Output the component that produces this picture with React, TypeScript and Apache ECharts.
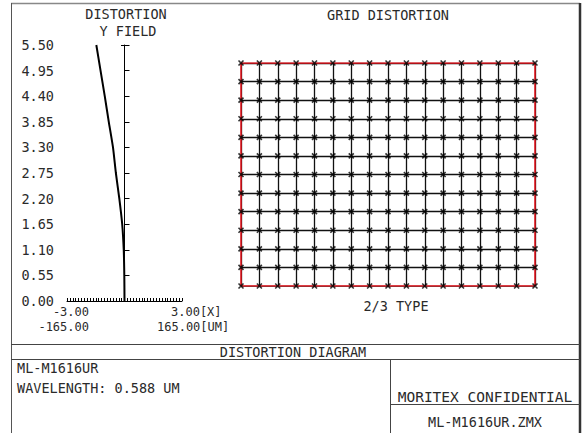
import React, { useEffect, useRef } from "react";
import * as echarts from "echarts";

// Distortion curve (Y field in mm vs distortion in %)
const fieldY = [0, 0.55, 1.1, 1.65, 2.2, 2.75, 3.3, 3.85, 4.4, 4.95, 5.5];
const distortionPct = [0, -0.01, -0.04, -0.12, -0.27, -0.45, -0.6, -0.82, -1.03, -1.25, -1.47];

// Grid distortion grid positions (mm)
const gridXs = [-4.4, -3.85, -3.3, -2.75, -2.2, -1.65, -1.1, -0.55, 0, 0.55, 1.1, 1.65, 2.2, 2.75, 3.3, 3.85, 4.4];
const gridYs = [-3.3, -2.75, -2.2, -1.65, -1.1, -0.55, 0, 0.55, 1.1, 1.65, 2.2, 2.75, 3.3];

// Axis end labels
const xLeftLabels = ["-3.00", "-165.00"];
const xRightLabels = ["3.00[X]", "165.00[UM]"];

const FONT = '"DejaVu Sans Mono", monospace';
const TXT = "#2a2a2a";

function txt(text: string, x: number, y: number, align: string, size = 13.5) {
  return {
    type: "text",
    x,
    y,
    silent: true,
    style: {
      text,
      fill: TXT,
      fontFamily: FONT,
      fontSize: size,
      lineHeight: size,
      align,
      verticalAlign: "middle",
    },
  };
}
function ln(x1: number, y1: number, x2: number, y2: number, stroke = "#444", w = 1) {
  return { type: "line", silent: true, shape: { x1, y1, x2, y2 }, style: { stroke, lineWidth: w } };
}

export default function App() {
  const ref = useRef<HTMLDivElement>(null);
  useEffect(() => {
    const chart = echarts.init(ref.current!, null, { renderer: "svg" });
    const xmin = gridXs[0], xmax = gridXs[gridXs.length - 1];
    const ymin = gridYs[0], ymax = gridYs[gridYs.length - 1];
    const gridSegs: any[] = [];
    gridXs.forEach((x) => gridSegs.push({ coords: [[x, ymin], [x, ymax]] }));
    gridYs.forEach((y) => gridSegs.push({ coords: [[xmin, y], [xmax, y]] }));
    const border = [
      { coords: [[xmin, ymin], [xmax, ymin]] },
      { coords: [[xmax, ymin], [xmax, ymax]] },
      { coords: [[xmax, ymax], [xmin, ymax]] },
      { coords: [[xmin, ymax], [xmin, ymin]] },
    ];
    const marks: number[][] = [];
    gridXs.forEach((x) => gridYs.forEach((y) => marks.push([x, y])));

    const option: any = {
      animation: false,
      backgroundColor: "#fff",
      grid: [
        { left: 67, top: 45, width: 115, height: 256 },
        { left: 241, top: 63, width: 294, height: 223 },
      ],
      xAxis: [
        {
          gridIndex: 0,
          type: "value",
          min: -3,
          max: 3,
          interval: 0.15,
          axisLine: { show: true, onZero: false, lineStyle: { color: "#000", width: 1 } },
          axisTick: { show: true, inside: true, length: 3, lineStyle: { color: "#000", width: 1 } },
          axisLabel: { show: false },
          splitLine: { show: false },
        },
        { gridIndex: 1, type: "value", min: xmin, max: xmax, show: false, splitLine: { show: false } },
      ],
      yAxis: [
        {
          gridIndex: 0,
          type: "value",
          min: 0,
          max: 5.5,
          interval: 0.55,
          position: "left",
          axisLine: { show: false, onZero: false },
          axisTick: { show: false },
          splitLine: { show: false },
          axisLabel: {
            show: true,
            margin: 13,
            formatter: (v: number) => v.toFixed(2),
            fontFamily: FONT,
            fontSize: 13.5,
            color: TXT,
          },
        },
        {
          gridIndex: 0,
          type: "value",
          min: 0,
          max: 5.5,
          interval: 0.55,
          position: "left",
          axisLine: { show: true, onZero: true, lineStyle: { color: "#000", width: 1 } },
          axisTick: { show: true, inside: true, length: 5, lineStyle: { color: "#000" } },
          axisLabel: { show: false },
          splitLine: { show: false },
        },
        { gridIndex: 1, type: "value", min: ymin, max: ymax, show: false, splitLine: { show: false } },
      ],
      series: [
        {
          type: "line",
          xAxisIndex: 0,
          yAxisIndex: 0,
          data: fieldY.map((f, i) => [distortionPct[i], f]),
          symbol: "none",
          smooth: 0.2,
          lineStyle: { color: "#000", width: 2 },
          z: 5,
        },
        {
          type: "lines",
          coordinateSystem: "cartesian2d",
          xAxisIndex: 1,
          yAxisIndex: 2,
          data: gridSegs,
          lineStyle: { color: "#111", width: 1.3, opacity: 1 },
          silent: true,
          z: 2,
        },
        {
          type: "lines",
          coordinateSystem: "cartesian2d",
          xAxisIndex: 1,
          yAxisIndex: 2,
          data: border,
          lineStyle: { color: "#e8101a", width: 1.5, opacity: 1 },
          silent: true,
          z: 3,
        },
        {
          type: "scatter",
          xAxisIndex: 1,
          yAxisIndex: 2,
          data: marks,
          symbol: "path://M0 0L10 10M10 0L0 10",
          symbolSize: 5,
          itemStyle: { color: "none", borderColor: "#000", borderWidth: 1.6 },
          silent: true,
          z: 4,
        },
      ],
      graphic: [
        // frame
        ln(11, 3.5, 580, 3.5, "#888", 1.5),
        ln(11.5, 3, 11.5, 433, "#555", 1),
        ln(580, 3, 580, 433, "#333", 2.5),
        ln(11, 344.5, 580, 344.5, "#444", 1),
        ln(11, 359.5, 580, 359.5, "#444", 1),
        ln(390.5, 359, 390.5, 433, "#444", 1),
        ln(390, 404.5, 580, 404.5, "#444", 1),
        // y axis top cap
        ln(121, 45.5, 129, 45.5, "#000", 1),
        // titles
        txt("DISTORTION", 126, 14, "center"),
        txt("Y FIELD", 128, 31, "center"),
        txt("GRID DISTORTION", 388, 15, "center"),
        txt("2/3 TYPE", 396, 306, "center"),
        // x axis end labels
        txt(xLeftLabels[0], 89, 311.5, "right", 12),
        txt(xLeftLabels[1], 89, 326.5, "right", 12),
        txt(xRightLabels[0], 171, 311.5, "left", 12),
        txt(xRightLabels[1], 157, 326.5, "left", 12),
        // title block
        txt("DISTORTION DIAGRAM", 293, 352, "center"),
        txt("ML-M1616UR", 17, 368, "left"),
        txt("WAVELENGTH: 0.588 UM", 17, 388, "left"),
        txt("MORITEX CONFIDENTIAL", 485, 397, "center", 14.5),
        txt("ML-M1616UR.ZMX", 485, 422, "center"),
      ],
    };
    chart.setOption(option);
    return () => chart.dispose();
  }, []);
  return (
    <div
      ref={ref}
      style={{ position: "fixed", left: 0, top: 0, width: 586, height: 433, background: "#fff" }}
    />
  );
}
